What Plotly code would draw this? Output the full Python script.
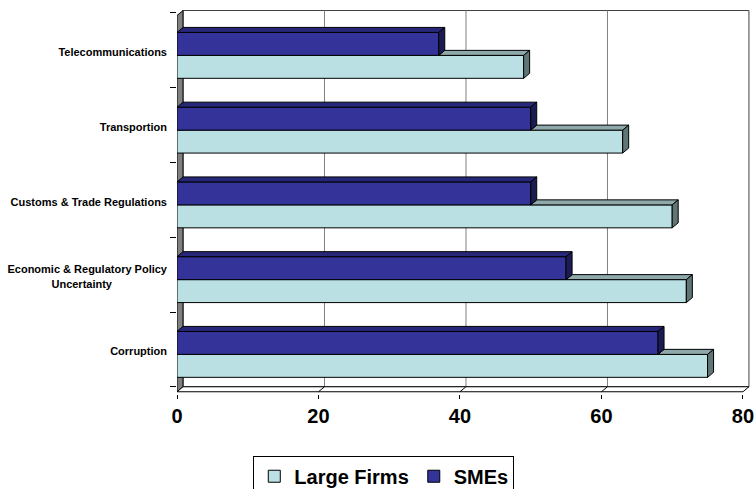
import plotly.graph_objects as go

categories = ["Corruption", "Economic & Regulatory Policy<br>Uncertainty",
              "Customs & Trade Regulations", "Transportion", "Telecommunications"]
large_firms = [75, 72, 70, 63, 49]
smes = [68, 55, 50, 50, 37]
x_ticks = [0, 20, 40, 60, 80]

# 3D styling constants (data units)
DX = 0.85
DY = 0.067
BW = 0.307
TOP = 4.6
X_MAX = 81.0
Y_MIN = -0.53
Y_MAX = 4.607

LF_FRONT, LF_TOP, LF_SIDE = "#BBE0E3", "#8FA9AB", "#5F7576"
SM_FRONT, SM_TOP, SM_SIDE = "#333399", "#27277A", "#1C1C55"

ypos = list(range(len(categories)))

# pad the two-line label so its second line looks centred
ticktext = []
for c in categories:
    if "<br>" in c:
        a, b = c.split("<br>")
        ticktext.append(a + "<br>" + b + "\u00a0" * 18)
    else:
        ticktext.append(c)

fig = go.Figure()

fig.add_trace(go.Bar(y=ypos, x=large_firms, orientation="h", name="Large Firms",
                     width=BW, offset=-BW, base=0,
                     marker=dict(color=LF_FRONT, line=dict(color="black", width=1)),
                     hoverinfo="x"))
fig.add_trace(go.Bar(y=ypos, x=smes, orientation="h", name="SMEs",
                     width=BW, offset=0, base=0,
                     marker=dict(color=SM_FRONT, line=dict(color="black", width=1)),
                     hoverinfo="x"))


def faces(vals, y_low, y_high, other=None):
    tx, ty, sx, sy = [], [], [], []
    for i, v in enumerate(vals):
        y0 = i + y_low
        y1 = i + y_high
        start = 0 if other is None else other[i]
        tx += [start, v, v + DX, start + DX, start, None]
        ty += [y1, y1, y1 + DY, y1 + DY, y1, None]
        sx += [v, v, v + DX, v + DX, v, None]
        sy += [y0, y1, y1 + DY, y0 + DY, y0, None]
    return tx, ty, sx, sy


lt_x, lt_y, ls_x, ls_y = faces(large_firms, -BW, 0, other=smes)
st_x, st_y, ss_x, ss_y = faces(smes, 0, BW)

for xs, ys, col in [(lt_x, lt_y, LF_TOP), (ls_x, ls_y, LF_SIDE),
                    (st_x, st_y, SM_TOP), (ss_x, ss_y, SM_SIDE)]:
    fig.add_trace(go.Scatter(x=xs, y=ys, mode="lines", fill="toself", fillcolor=col,
                             line=dict(color="black", width=1), showlegend=False,
                             hoverinfo="skip"))

shapes = []
# back wall
shapes.append(dict(type="rect", xref="x", yref="y", x0=DX, x1=80 + DX, y0=-0.5 + DY, y1=TOP,
                   fillcolor="white", line=dict(color="#404040", width=1), layer="below"))
# gridlines on back wall
for t in x_ticks[1:-1]:
    shapes.append(dict(type="line", xref="x", yref="y", x0=t + DX, x1=t + DX, y0=-0.5 + DY, y1=TOP,
                       line=dict(color="#808080", width=1), layer="below"))
# left wall
shapes.append(dict(type="path", xref="x", yref="y",
                   path=f"M0,-0.5 L0,{TOP - DY} L{DX},{TOP} L{DX},{-0.5 + DY} Z",
                   fillcolor="#808080", line=dict(color="black", width=1), layer="below"))
# floor
shapes.append(dict(type="path", xref="x", yref="y",
                   path=f"M0,-0.5 L80,-0.5 L{80 + DX},{-0.5 + DY} L{DX},{-0.5 + DY} Z",
                   fillcolor="white", line=dict(color="black", width=1), layer="below"))
for t in x_ticks[1:-1]:
    shapes.append(dict(type="line", xref="x", yref="y", x0=t, x1=t + DX, y0=-0.5, y1=-0.5 + DY,
                       line=dict(color="black", width=1), layer="below"))

fig.update_layout(
    width=754, height=489,
    margin=dict(l=177, r=4, t=10, b=94.8, autoexpand=False),
    paper_bgcolor="white", plot_bgcolor="white",
    barmode="overlay",
    shapes=shapes,
    showlegend=True,
    legend=dict(orientation="h", xref="container", yref="container",
                x=0.509, xanchor="center", y=0.068, yanchor="top",
                bordercolor="black", borderwidth=1, traceorder="normal",
                font=dict(family="Liberation Sans, Arial, sans-serif", size=20, color="black",
                          weight="bold")),
    xaxis=dict(range=[0, X_MAX], tickvals=x_ticks, ticktext=[str(v) for v in x_ticks],
               showgrid=False, zeroline=False, showline=False,
               ticks="outside", ticklen=4, tickcolor="black", ticklabeloverflow="allow",
               tickfont=dict(family="Liberation Sans, Arial, sans-serif", size=20, color="black",
                             weight="bold")),
    yaxis=dict(range=[Y_MIN, Y_MAX], tickvals=ypos, ticktext=ticktext,
               showgrid=False, zeroline=False, showline=False, ticks="",
               ticklabelstandoff=9, ticklabelshift=-3,
               minor=dict(tickvals=[k - 0.5 + DY for k in range(len(categories) + 1)],
                          ticks="outside", ticklen=6, tickcolor="black", showgrid=False),
               tickfont=dict(family="Liberation Sans, Arial, sans-serif", size=11, color="black",
                             weight="bold")),
)

fig.write_html("out.html")
